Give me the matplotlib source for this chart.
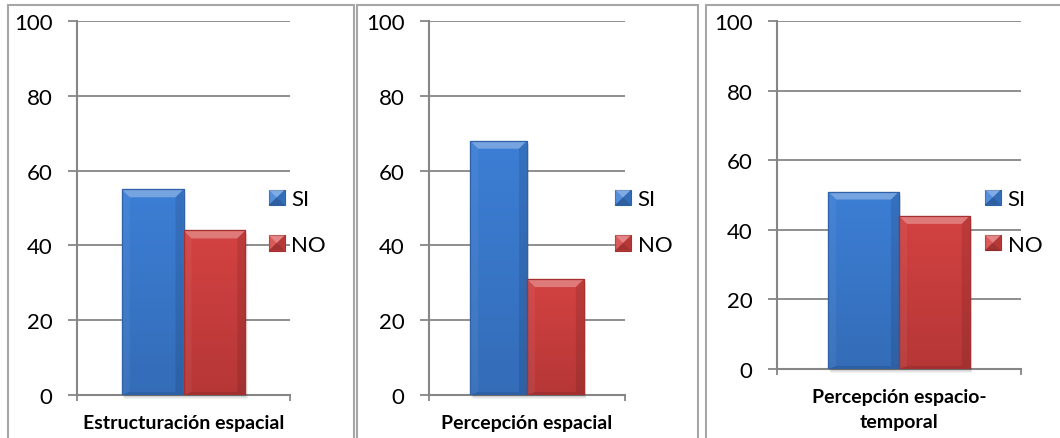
import numpy as np
import matplotlib.pyplot as plt
from matplotlib.patches import Rectangle, Polygon
from matplotlib.colors import LinearSegmentedColormap
from matplotlib.legend_handler import HandlerBase

plt.rcParams['font.family'] = ['Lato', 'DejaVu Sans']

categorias = ['Estructuración espacial', 'Percepción espacial', 'Percepción espacio-\ntemporal']
series = ['SI', 'NO']
si = [55, 68, 51]
no = [44, 31, 44]
yticks = [0, 20, 40, 60, 80, 100]

W, H = 1060, 439
gris = '#868686'
colores = {'SI': ('#3d80d8', '#2f62a6'), 'NO': ('#d64343', '#a53030')}

# marcos de cada grafico (px): izquierda, derecha
marcos = [(7.5, 354), (357, 698), (706, 1075)]
# area de trazado (px): izquierda, derecha, arriba, abajo
areas = [(77, 290, 22, 396), (429, 625, 22, 396), (777, 1021, 22, 370)]
ley_x = [0.90, 0.949, 0.852]
ley_y = [0.4626, 0.4626, 0.423]


class BiselHandler(HandlerBase):
    def create_artists(self, legend, orig, xd, yd, w, h, fs, trans):
        base, oscuro = orig.get_facecolor(), orig.get_edgecolor()
        x0, y0 = -xd, -yd
        cx, cy = x0 + w / 2, y0 + h / 2
        rect = Rectangle((x0, y0), w, h, facecolor=base, edgecolor=oscuro, lw=0.8, transform=trans)
        tri = [
            ([(x0, y0 + h), (x0 + w, y0 + h), (cx, cy)], 'white', 0.35),
            ([(x0, y0), (x0, y0 + h), (cx, cy)], 'white', 0.12),
            ([(x0 + w, y0), (x0 + w, y0 + h), (cx, cy)], 'black', 0.15),
            ([(x0, y0), (x0 + w, y0), (cx, cy)], 'black', 0.25),
        ]
        arts = [rect]
        for pts, c, a in tri:
            arts.append(Polygon(pts, closed=True, facecolor=c, alpha=a, lw=0, transform=trans))
        return arts


def barra_bisel(ax, patch, base, oscuro, px_w, px_h):
    x0, y0 = patch.get_x(), patch.get_y()
    w, h = patch.get_width(), patch.get_height()
    x1, y1 = x0 + w, y0 + h
    dx = 8 * 1.0 / px_w
    dy = 8 * 100.0 / px_h
    dyb = 3 * 100.0 / px_h
    # sombra
    for k in range(1, 5):
        off = k * 100.0 / px_h
        ax.add_patch(Rectangle((x0 + k * 0.6 / px_w, y0 - off), w, h, facecolor='black',
                               alpha=0.05, lw=0, zorder=2, clip_on=False))
    # degradado vertical
    grad = np.linspace(1, 0, 64).reshape(-1, 1)
    cmap = LinearSegmentedColormap.from_list('g', [oscuro, base])
    im = ax.imshow(grad, extent=(x0, x1, y0, y1), aspect='auto', cmap=cmap,
                   vmin=-0.6, vmax=1.1, zorder=3)
    im.set_clip_path(patch)
    caras = [
        ([(x0, y1), (x1, y1), (x1 - dx, y1 - dy), (x0 + dx, y1 - dy)], 'white', 0.3),
        ([(x0, y0), (x0, y1), (x0 + dx, y1 - dy), (x0 + dx, y0 + dyb)], 'white', 0.05),
        ([(x1, y0), (x1, y1), (x1 - dx, y1 - dy), (x1 - dx, y0 + dyb)], 'black', 0.1),
        ([(x0, y0), (x1, y0), (x1 - dx, y0 + dyb), (x0 + dx, y0 + dyb)], 'black', 0.1),
    ]
    for pts, c, a in caras:
        ax.add_patch(Polygon(pts, closed=True, facecolor=c, alpha=a, lw=0, zorder=4))
    ax.add_patch(Rectangle((x0, y0), w, h, fill=False, edgecolor=oscuro, lw=0.9, zorder=5))


fig = plt.figure(figsize=(10.6, 4.39), dpi=100)

for (m0, m1) in marcos:
    fig.add_artist(Rectangle((m0 / W, -0.05), (m1 - m0) / W, 1.05 - 6 / H,
                             transform=fig.transFigure, fill=False,
                             edgecolor='#a6a6a6', lw=1.5))

ancho = 0.29
for i, (l, r, t, b) in enumerate(areas):
    ax = fig.add_axes([l / W, 1 - b / H, (r - l) / W, (b - t) / H])
    px_w, px_h = r - l, b - t
    valores = {'SI': si[i], 'NO': no[i]}
    for j, s in enumerate(series):
        base, oscuro = colores[s]
        barras = ax.bar((j - 0.5) * ancho, valores[s], ancho, color=base,
                        edgecolor=oscuro, lw=0.8, zorder=3, label=s)
        barra_bisel(ax, barras.patches[0], base, oscuro, px_w, px_h)

    ax.set_xlim(-0.5, 0.5)
    ax.set_ylim(0, 100)
    ax.set_yticks(yticks)
    ax.grid(axis='y', color=gris, lw=1.3, zorder=0)
    ax.set_axisbelow(True)
    for lado in ['top', 'right']:
        ax.spines[lado].set_visible(False)
    for lado in ['left', 'bottom']:
        ax.spines[lado].set_color(gris)
        ax.spines[lado].set_linewidth(1.5)
        ax.spines[lado].set_zorder(1)
    ax.tick_params(axis='y', length=6.5, width=1.3, color=gris, labelsize=16, pad=11)
    ax.set_xticks([0])
    ax.set_xticklabels([categorias[i]], fontsize=14, fontweight='bold', linespacing=1.55)
    ax.set_xticks([-0.5, 0.5], minor=True)
    ax.tick_params(axis='x', which='major', length=0, pad=14)
    ax.tick_params(axis='x', which='minor', length=4, width=1.3, color=gris, direction='out')

    manijas = [Rectangle((0, 0), 1, 1, facecolor=colores[s][0], edgecolor=colores[s][1]) for s in series]
    ax.legend(manijas, series, loc='center left', bbox_to_anchor=(ley_x[i], ley_y[i]),
              frameon=False, fontsize=16, borderpad=0, borderaxespad=0,
              handlelength=0.72, handleheight=0.68, handletextpad=0.3,
              labelspacing=1.15, handler_map={Rectangle: BiselHandler()})

fig.savefig('out.png', dpi=100)
